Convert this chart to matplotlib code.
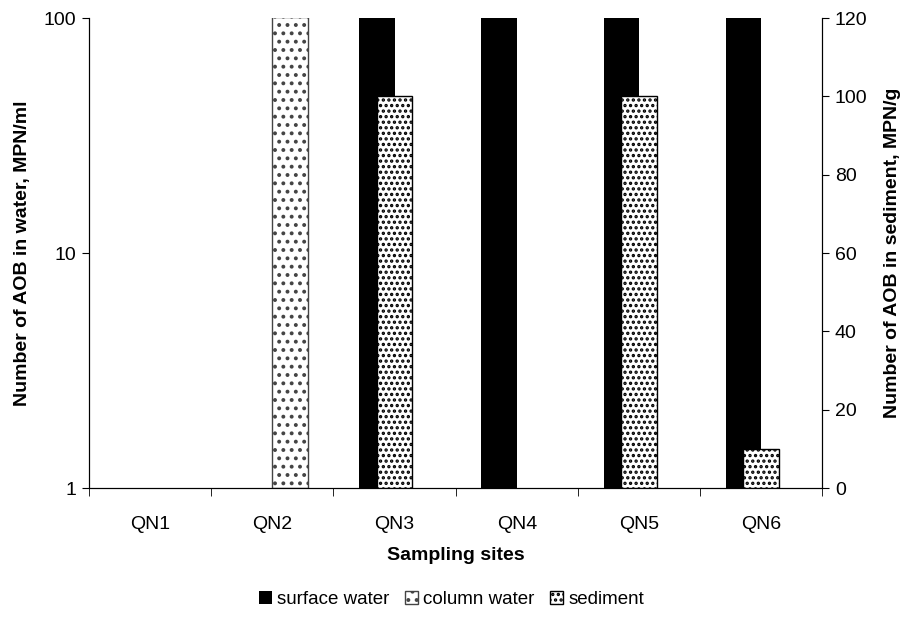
import numpy as np
import matplotlib
matplotlib.use("Agg")
import matplotlib.pyplot as plt

plt.rcParams['font.family'] = ['Liberation Sans', 'DejaVu Sans']
plt.rcParams['hatch.linewidth'] = 1.6

sites = ['QN1', 'QN2', 'QN3', 'QN4', 'QN5', 'QN6']
surface_water = [np.nan, np.nan, 100, 100, 100, 100]   # MPN/ml, log axis
column_water = [np.nan, 100, np.nan, np.nan, np.nan, np.nan]  # MPN/ml
sediment = [np.nan, np.nan, 100, np.nan, 100, 10]       # MPN/g, right axis

x = np.arange(len(sites))
w = 0.29
fs = 14

fig = plt.figure(figsize=(9.03, 6.21), dpi=100)
ax = fig.add_axes([0.0986, 0.214, 0.812, 0.757])
ax.set_yscale('log')
ax.bar(x - w / 2, surface_water, w, bottom=1, color='black', label='surface water', zorder=2)
ax.bar(x + w / 2, column_water, w, bottom=1, facecolor='white', edgecolor='#444444',
       hatch='..', linewidth=1.0, label='column water', zorder=2)
ax.set_ylim(1, 100)
ax.set_xlim(-0.5, len(sites) - 0.5)
ax.set_yticks([1, 10, 100])
ax.set_yticklabels(['1', '10', '100'])
ax.yaxis.set_minor_locator(matplotlib.ticker.NullLocator())
ax.set_xticks(x)
ax.set_xticklabels(sites)
ax.set_xticks(np.arange(-0.5, len(sites)), minor=True)
ax.tick_params(axis='x', which='major', length=0, pad=20, labelsize=fs)
ax.tick_params(axis='x', which='minor', length=6, direction='out')
ax.tick_params(axis='y', length=5, direction='out', labelsize=fs, pad=4)
ax.spines['top'].set_visible(False)
ax.set_xlabel('Sampling sites', fontweight='bold', fontsize=fs, labelpad=10)
ax.set_ylabel('Number of AOB in water, MPN/ml', fontweight='bold', fontsize=fs, labelpad=9)

ax2 = ax.twinx()
ax2.bar(x, sediment, w, facecolor='white', edgecolor='black', hatch='...',
        linewidth=1.0, label='sediment', zorder=3)
ax2.set_ylim(0, 120)
ax2.set_yticks(np.arange(0, 121, 20))
ax2.tick_params(axis='y', length=5, direction='out', labelsize=fs, pad=4)
ax2.spines['top'].set_visible(False)
ax2.set_ylabel('Number of AOB in sediment, MPN/g', fontweight='bold', fontsize=fs, labelpad=12)

h1, l1 = ax.get_legend_handles_labels()
h2, l2 = ax2.get_legend_handles_labels()
fig.legend(h1 + h2, l1 + l2, loc='center', bbox_to_anchor=(0.5, 0.034), ncol=3,
           frameon=False, fontsize=13.5, handlelength=0.7, handleheight=0.7,
           handletextpad=0.3, columnspacing=0.8)

fig.savefig('out.png', dpi=100)
